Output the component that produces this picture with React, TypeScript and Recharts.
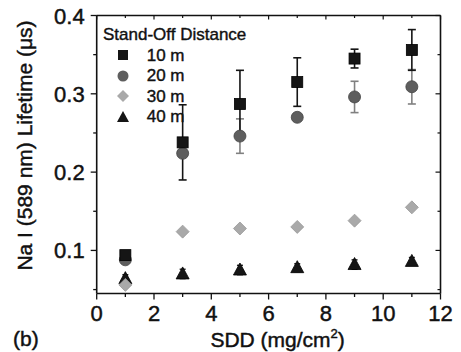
import React from 'react';
import { ScatterChart, Scatter, XAxis, YAxis, ErrorBar, Legend } from 'recharts';

const sdd = [1, 3, 5, 7, 9, 11];
const life10 = [0.094, 0.238, 0.287, 0.315, 0.345, 0.356];
const err10 = [0.004, 0.048, 0.043, 0.031, 0.012, 0.026];
const life20 = [0.088, 0.224, 0.246, 0.27, 0.296, 0.309];
const err20 = [0.002, 0.003, 0.022, 0.003, 0.02, 0.022];
const life30 = [0.056, 0.124, 0.128, 0.13, 0.138, 0.155];
const err30 = [0.002, 0.002, 0.002, 0.002, 0.003, 0.003];
const life40 = [0.064, 0.07, 0.075, 0.078, 0.082, 0.086];
const err40 = [0.005, 0.006, 0.006, 0.005, 0.006, 0.005];

const seriesNames = ['10 m', '20 m', '30 m', '40 m'];
const legendTitle = 'Stand-Off Distance';
const xTicks = [0, 1, 2, 3, 4, 5, 6, 7, 8, 9, 10, 11, 12];
const xMajor = [0, 2, 4, 6, 8, 10, 12];
const yTicks = [0.05, 0.1, 0.15, 0.2, 0.25, 0.3, 0.35, 0.4];
const yMajor = [0.1, 0.2, 0.3, 0.4];
const xTitle = 'SDD (mg/cm';
const yTitle = 'Na I (589 nm) Lifetime (\u03bcs)';
const panelLabel = '(b)';

const build = (vals: number[], errs: number[]) =>
  sdd.map((x, i) => ({ x, y: vals[i], e: errs[i] }));

const FONT = '"Liberation Sans", Arial, sans-serif';
const INK = '#111';
const TEXT_STROKE = { stroke: INK, strokeWidth: 0.45 };

const isMajorX = (v: number) => xMajor.indexOf(v) >= 0;
const isMajorY = (v: number) => yMajor.some((m) => Math.abs(m - v) < 1e-9);

const BottomTick = (p: any) => {
  const v = p.payload.value;
  const major = isMajorX(v);
  return (
    <g>
      <line x1={p.x} x2={p.x} y1={p.y} y2={p.y + (major ? 6 : 3.5)} stroke={INK} strokeWidth={1.3} />
      {major && (
        <text x={p.x} y={p.y + 27} textAnchor="middle" fontSize={22} fontFamily={FONT} fill={INK} {...TEXT_STROKE}>
          {v}
        </text>
      )}
    </g>
  );
};

const TopTick = (p: any) => {
  const v = p.payload.value;
  const major = isMajorX(v);
  return <line x1={p.x} x2={p.x} y1={p.y} y2={p.y + (major ? 4 : 2.5)} stroke={INK} strokeWidth={1.2} />;
};

const LeftTick = (p: any) => {
  const v = p.payload.value;
  const major = isMajorY(v);
  return (
    <g>
      <line x1={p.x} x2={p.x - (major ? 6 : 3.5)} y1={p.y} y2={p.y} stroke={INK} strokeWidth={1.3} />
      {major && (
        <text x={p.x - 12} y={p.y + 8} textAnchor="end" fontSize={22} fontFamily={FONT} fill={INK} {...TEXT_STROKE}>
          {String(v)}
        </text>
      )}
    </g>
  );
};

const RightTick = (p: any) => {
  const v = p.payload.value;
  const major = isMajorY(v);
  return <line x1={p.x} x2={p.x - (major ? 5 : 3)} y1={p.y} y2={p.y} stroke={INK} strokeWidth={1.2} />;
};

const SquareShape = (p: any) => (
  <rect x={p.cx - 5.5} y={p.cy - 5.5} width={11} height={11} fill="#151515" stroke="#000" strokeWidth={0.8} />
);
const CircleShape = (p: any) => (
  <circle cx={p.cx} cy={p.cy} r={6} fill="#5e5e5e" stroke="#444" strokeWidth={0.8} />
);
const DiamondShape = (p: any) => (
  <polygon
    points={`${p.cx},${p.cy - 6.5} ${p.cx + 6.5},${p.cy} ${p.cx},${p.cy + 6.5} ${p.cx - 6.5},${p.cy}`}
    fill="#a9a9a9"
    stroke="#999"
    strokeWidth={0.8}
  />
);
const TriangleShape = (p: any) => (
  <polygon
    points={`${p.cx},${p.cy - 7} ${p.cx + 6.5},${p.cy + 5} ${p.cx - 6.5},${p.cy + 5}`}
    fill="#151515"
    stroke="#000"
    strokeWidth={0.8}
  />
);

const legendIcons = [
  <rect key="s" x={1} y={1} width={10} height={10} fill="#151515" />,
  <circle key="c" cx={6} cy={6} r={5.5} fill="#5e5e5e" />,
  <polygon key="d" points="6,0 12,6 6,12 0,6" fill="#a9a9a9" />,
  <polygon key="t" points="6,0 12,11 0,11" fill="#151515" />,
];

const LegendBox = () => (
  <div style={{ fontFamily: FONT, color: INK, lineHeight: 1, WebkitTextStroke: '0.4px #111' }}>
    <div style={{ fontSize: 17, height: 17, lineHeight: '17px', whiteSpace: 'nowrap' }}>{legendTitle}</div>
    <div style={{ height: 2 }} />
    {seriesNames.map((n, i) => (
      <div key={n} style={{ display: 'flex', alignItems: 'center', height: 20.5 }}>
        <svg width={12} height={12} style={{ marginLeft: 14.3, display: 'block' }}>
          {legendIcons[i]}
        </svg>
        <span style={{ marginLeft: 17.4, fontSize: 17, whiteSpace: 'nowrap' }}>{n}</span>
      </div>
    ))}
  </div>
);

const XTitle = (p: any) => {
  const vb = p.viewBox || { x: 0, y: 0, width: 0, height: 0 };
  const cx = vb.x + vb.width / 2 + 9;
  return (
    <g>
      <text x={cx} y={vb.y + 53.5} textAnchor="middle" fontSize={21} fontFamily={FONT} fill={INK} {...TEXT_STROKE}>
        {xTitle}
        <tspan fontSize={13} dy={-9}>2</tspan>
        <tspan dy={9}>)</tspan>
      </text>
      <text x={13} y={vb.y + 52.5} fontSize={21} fontFamily={FONT} fill={INK} {...TEXT_STROKE}>
        {panelLabel}
      </text>
    </g>
  );
};

const YTitle = (p: any) => {
  const vb = p.viewBox || { x: 0, y: 0, width: 0, height: 0 };
  const cy = vb.y + vb.height / 2 - 9;
  const x = 32;
  return (
    <text
      x={x}
      y={cy}
      textAnchor="middle"
      fontSize={21}
      fontFamily={FONT}
      fill={INK}
      {...TEXT_STROKE}
      transform={`rotate(-90, ${x}, ${cy})`}
    >
      {yTitle}
    </text>
  );
};

export default function App() {
  return (
    <div style={{ position: 'absolute', left: 0, top: 0, width: 461, height: 352, background: '#fff' }}>
      <ScatterChart width={461} height={352} margin={{ top: 14.5, right: 19.5, bottom: 28.5, left: 36.7 }}>
        <XAxis
          xAxisId="t"
          orientation="top"
          type="number"
          dataKey="x"
          domain={[0, 12]}
          ticks={xTicks}
          allowDataOverflow
          height={1}
          tickSize={0}
          tickMargin={0}
          tickLine={false}
          tick={<TopTick />}
          axisLine={{ stroke: INK, strokeWidth: 1.6 }}
          interval={0}
        />
        <YAxis
          yAxisId="r"
          orientation="right"
          type="number"
          dataKey="y"
          domain={[0.045, 0.4]}
          ticks={yTicks}
          allowDataOverflow
          width={1}
          tickSize={0}
          tickMargin={0}
          tickLine={false}
          tick={<RightTick />}
          axisLine={{ stroke: INK, strokeWidth: 1.6 }}
          interval={0}
        />
        <XAxis
          xAxisId="b"
          orientation="bottom"
          type="number"
          dataKey="x"
          domain={[0, 12]}
          ticks={xTicks}
          allowDataOverflow
          height={30}
          tickSize={0}
          tickMargin={0}
          tickLine={false}
          tick={<BottomTick />}
          axisLine={{ stroke: INK, strokeWidth: 1.6 }}
          interval={0}
          label={<XTitle />}
        />
        <YAxis
          yAxisId="l"
          orientation="left"
          type="number"
          dataKey="y"
          domain={[0.045, 0.4]}
          ticks={yTicks}
          allowDataOverflow
          width={60}
          tickSize={0}
          tickMargin={0}
          tickLine={false}
          tick={<LeftTick />}
          axisLine={{ stroke: INK, strokeWidth: 1.6 }}
          interval={0}
          label={<YTitle />}
        />
        <Legend
          layout="vertical"
          align="center"
          verticalAlign="middle"
          content={<LegendBox />}
          wrapperStyle={{ position: 'absolute', left: 103, top: 26, width: 'auto', height: 'auto' }}
        />
        <Scatter
          name={seriesNames[3]}
          xAxisId="b"
          yAxisId="l"
          data={build(life40, err40)}
          shape={TriangleShape}
          isAnimationActive={false}
        >
          <ErrorBar dataKey="e" direction="y" width={3} stroke="#222" strokeWidth={1.4} />
        </Scatter>
        <Scatter
          name={seriesNames[2]}
          xAxisId="b"
          yAxisId="l"
          data={build(life30, err30)}
          shape={DiamondShape}
          isAnimationActive={false}
        >
          <ErrorBar dataKey="e" direction="y" width={3} stroke="#aaa" strokeWidth={1.4} />
        </Scatter>
        <Scatter
          name={seriesNames[1]}
          xAxisId="b"
          yAxisId="l"
          data={build(life20, err20)}
          shape={CircleShape}
          isAnimationActive={false}
        >
          <ErrorBar dataKey="e" direction="y" width={4} stroke="#808080" strokeWidth={1.6} />
        </Scatter>
        <Scatter
          name={seriesNames[0]}
          xAxisId="b"
          yAxisId="l"
          data={build(life10, err10)}
          shape={SquareShape}
          isAnimationActive={false}
        >
          <ErrorBar dataKey="e" direction="y" width={4} stroke="#151515" strokeWidth={1.6} />
        </Scatter>
      </ScatterChart>
    </div>
  );
}
